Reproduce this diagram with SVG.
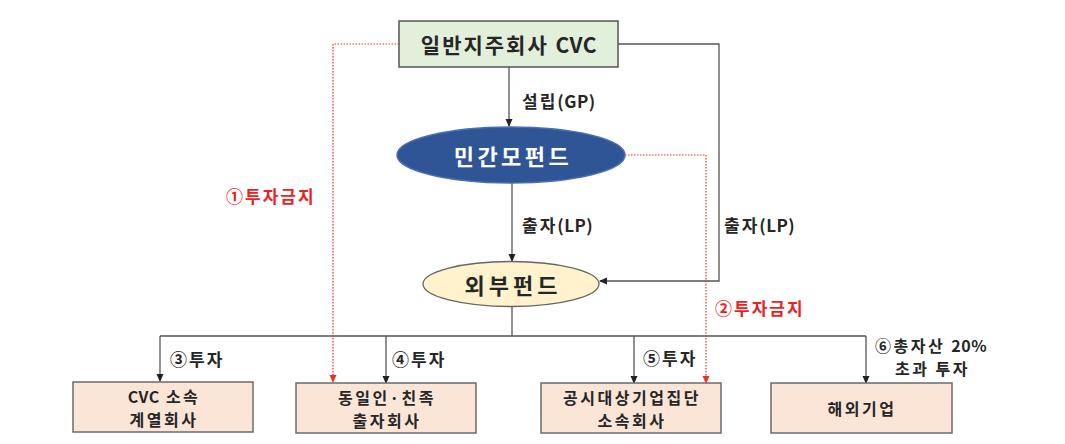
<svg xmlns="http://www.w3.org/2000/svg" width="1065" height="444" viewBox="0 0 1065 444">
<style>
text{font-family:"Noto Sans CJK KR","Noto Sans",sans-serif;font-weight:bold;text-anchor:middle;dominant-baseline:central}
.box{fill:#FBE5D6;stroke:#6b6b6b;stroke-width:1.5}
.bt{font-size:16px;fill:#262626;letter-spacing:2.5px}
.lbl{font-size:17px;fill:#262626;text-anchor:start;letter-spacing:2px}
.sm{font-size:16px;letter-spacing:2.5px}
.lat{letter-spacing:0.5px}
.red{fill:#E8231F}
.ln{fill:none;stroke:#555;stroke-width:1.3}
.rd{fill:none;stroke:#F0302A;stroke-width:1.2;stroke-dasharray:1.5 1.5}
</style>
<defs>
<marker id="ah" markerWidth="8" markerHeight="8" refX="7" refY="4" orient="auto" markerUnits="userSpaceOnUse"><path d="M0,0.5 L8,4 L0,7.5z" fill="#222"/></marker>
<marker id="ahr" markerWidth="8" markerHeight="8" refX="7" refY="4" orient="auto" markerUnits="userSpaceOnUse"><path d="M0,0.5 L8,4 L0,7.5z" fill="#F0302A"/></marker>
</defs>
<rect width="1065" height="444" fill="#fff"/>
<g id="connectors">
<path class="ln" d="M509,67 V126" marker-end="url(#ah)"/>
<path class="ln" d="M618,44 H719 V281 H600" marker-end="url(#ah)"/>
<path class="ln" d="M512,183 V261" marker-end="url(#ah)"/>
<path class="ln" d="M512,306 V336 M160,336 H866"/>
<path class="ln" d="M160,336 V381" marker-end="url(#ah)"/>
<path class="ln" d="M386,336 V383" marker-end="url(#ah)"/>
<path class="ln" d="M634,336 V383" marker-end="url(#ah)"/>
<path class="ln" d="M866,336 V383" marker-end="url(#ah)"/>
<path class="rd" d="M399,44 H333 V382" marker-end="url(#ahr)"/>
<path class="rd" d="M625,155 H706 V383" marker-end="url(#ahr)"/>
<text class="lbl" x="522" y="100">설립<tspan class="lat">(GP)</tspan></text>
<text class="lbl" x="522" y="224">출자<tspan class="lat">(LP)</tspan></text>
<text class="lbl" x="724" y="224">출자<tspan class="lat">(LP)</tspan></text>
<text class="lbl red" x="226" y="195">①투자금지</text>
<text class="lbl red" x="715" y="307">②투자금지</text>
<text class="lbl" x="170" y="358">③투자</text>
<text class="lbl" x="392" y="358">④투자</text>
<text class="lbl" x="643" y="357">⑤투자</text>
<text class="lbl sm" x="875" y="345">⑥총자산 <tspan class="lat">20%</tspan></text>
<text class="lbl sm" x="895" y="368">초과 투자</text>
</g>
<g id="cvc">
<rect x="399" y="21" width="219" height="46" fill="#E2EFDA" stroke="#555" stroke-width="1.5"/>
<text x="509" y="44" font-size="21" fill="#262626" letter-spacing="2">일반지주회사 <tspan letter-spacing="0.5">CVC</tspan></text>
</g>
<g id="mofund">
<ellipse cx="511" cy="155" rx="114" ry="28" fill="#2F5597" stroke="#4a6fb0" stroke-width="1.5"/>
<text x="513" y="155" font-size="22" fill="#fff" letter-spacing="3.5">민간모펀드</text>
</g>
<g id="extfund">
<ellipse cx="511" cy="284" rx="88" ry="22.5" fill="#FFF2CC" stroke="#666" stroke-width="1.3"/>
<text x="513" y="284" font-size="22" fill="#262626" letter-spacing="4">외부펀드</text>
</g>
<g id="b1">
<rect class="box" x="73" y="382" width="180" height="50"/>
<text class="bt" x="164" y="396"><tspan class="lat">CVC</tspan> 소속</text>
<text class="bt" x="164" y="419">계열회사</text>
</g>
<g id="b2">
<rect class="box" x="296" y="383" width="180" height="50"/>
<text class="bt" x="387" y="397">동일인·친족</text>
<text class="bt" x="387" y="420">출자회사</text>
</g>
<g id="b3">
<rect class="box" x="541" y="383" width="180" height="50"/>
<text class="bt" x="632" y="397">공시대상기업집단</text>
<text class="bt" x="632" y="420">소속회사</text>
</g>
<g id="b4">
<rect class="box" x="771" y="383" width="181" height="50"/>
<text class="bt" x="862" y="408">해외기업</text>
</g>
</svg>
